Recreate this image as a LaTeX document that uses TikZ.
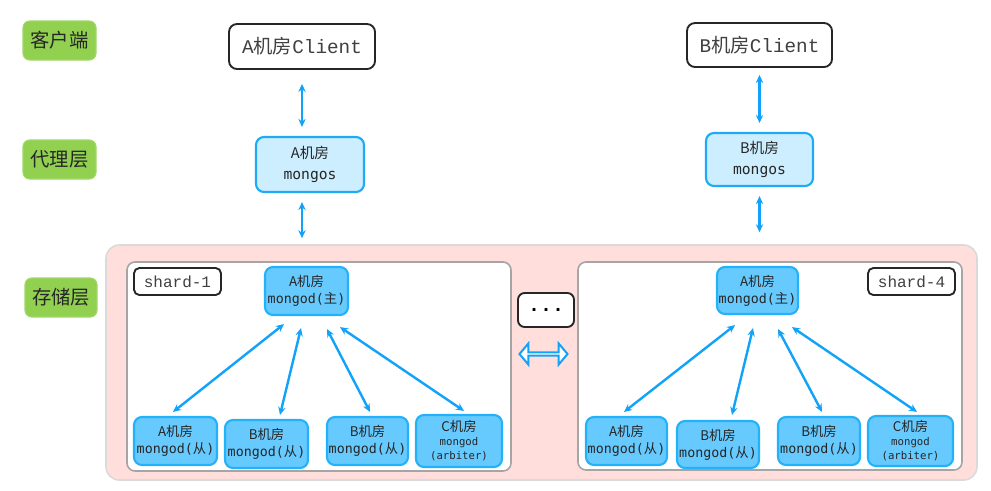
\documentclass[tikz,border=0pt]{standalone}
\usepackage{fontspec}
\setmainfont{Noto Sans CJK SC}
\newfontfamily\cjk{Noto Sans CJK SC}
\newfontfamily\mono{DejaVu Sans Mono}
\newfontfamily\cour{Liberation Mono}
\usetikzlibrary{arrows.meta,shapes.arrows}
\definecolor{lblgreen}{RGB}{146,208,80}
\definecolor{arrblue}{RGB}{17,163,250}
\definecolor{mongosfill}{RGB}{204,238,255}
\definecolor{mongosdraw}{RGB}{30,170,245}
\definecolor{mongodfill}{RGB}{102,202,255}
\definecolor{mongoddraw}{RGB}{35,178,250}
\definecolor{pinkfill}{RGB}{255,222,220}
\definecolor{pinkdraw}{RGB}{218,218,218}
\definecolor{sharddraw}{RGB}{165,165,165}
\definecolor{darkline}{RGB}{38,38,38}
\tikzset{
  sz/.style 2 args={minimum width={#1*0.75pt},minimum height={#2*0.75pt}},
  base/.style={inner sep=0pt, align=center, rounded corners=5pt},
  layer/.style={base, fill=lblgreen, draw=lblgreen!85!white, line width=0.8pt, text=black!85, font=\cjk\fontsize{14.5}{17}\selectfont},
  clientbox/.style={base, fill=white, draw=darkline, line width=1.4pt, rounded corners=6pt, text=black!75, font=\fontsize{14.5}{17}\selectfont},
  mongosbox/.style={base, fill=mongosfill, draw=mongosdraw, line width=1.6pt, rounded corners=6pt, text=black!85, font=\fontsize{11}{15.75}\selectfont},
  mongodbox/.style={base, fill=mongodfill, draw=mongoddraw, line width=1.6pt, rounded corners=6pt, text=black!85, font=\fontsize{10}{12.75}\selectfont},
  arbbox/.style={mongodbox, font=\fontsize{8}{10.5}\selectfont},
  shardlbl/.style={base, fill=white, draw=darkline, line width=1.4pt, rounded corners=4pt, text=black!75, font=\cour\fontsize{12}{14}\selectfont},
  shardbox/.style={base, fill=white, draw=sharddraw, line width=1.2pt, rounded corners=6pt},
  conn/.style={draw=arrblue, line width=1.8pt, {Stealth[length=6pt,width=5.5pt]}-{Stealth[length=6pt,width=5.5pt]}},
}
\begin{document}
\begin{tikzpicture}[x=0.75pt,y=-0.75pt]
\useasboundingbox (0,0) rectangle (991,490);
% layer labels
\node[layer, sz={73}{39}] (lclient) at (59.5,40.5) {客户端};
\node[layer, sz={73}{39}] (lproxy) at (59.5,159.5) {代理层};
\node[layer, sz={72}{39}] (lstore) at (61,297.5) {存储层};
% clients
\node[clientbox, sz={146}{45}] (clientA) at (302,46.5) {{\cour A}机房{\cour Client}};
\node[clientbox, sz={145}{44}] (clientB) at (759.5,45) {{\cour B}机房{\cour Client}};
% mongos
\node[mongosbox, sz={108}{55}] (mongosA) at (310,164.5) {A机房\\{\mono mongos}};
\node[mongosbox, sz={107}{53}] (mongosB) at (759.5,159.5) {B机房\\{\mono mongos}};
% storage area
\node[base, fill=pinkfill, draw=pinkdraw, line width=1.2pt, rounded corners=10pt, sz={871}{235}] (storage) at (541.5,362.5) {};
\node[shardbox, sz={384}{209}] (shard1) at (319,366.5) {};
\node[shardbox, sz={384}{208}] (shard4) at (770,366) {};
\node[shardlbl, sz={87}{27}] (lbl1) at (177.5,281.5) {shard-1};
\node[shardlbl, sz={87}{27}] (lbl4) at (911.5,281.5) {shard-4};
% middle
\node[base, fill=white, draw=darkline, line width=1.4pt, rounded corners=5pt, sz={56}{34}, font=\cour\bfseries\fontsize{15}{15}\selectfont] (dots) at (546,310) {\raisebox{-2.5pt}{...}};
\node[double arrow, draw=arrblue, fill=white, line width=1.5pt, inner sep=0pt, minimum height={48*0.75pt}, minimum width={21*0.75pt}, double arrow head extend={5.5*0.75pt}, double arrow tip angle=100] (dbl) at (543.5,354) {};
% shard-1 nodes
\node[mongodbox, sz={83}{48}] (top1) at (306.5,291) {A机房\\{\mono mongod(}主{\mono )}};
\node[mongodbox, sz={83}{48}] (b11) at (175.5,441) {A机房\\{\mono mongod(}从{\mono )}};
\node[mongodbox, sz={83}{48}] (b12) at (266.5,444) {B机房\\{\mono mongod(}从{\mono )}};
\node[mongodbox, sz={81}{48}] (b13) at (367.5,441) {B机房\\{\mono mongod(}从{\mono )}};
\node[arbbox, sz={86}{52}] (b14) at (459,441) {{\fontsize{10}{10.5}\selectfont C机房}\\{\mono mongod}\\{\mono (arbiter)}};
% shard-4 nodes
\node[mongodbox, sz={81}{47}] (top4) at (757.5,290.5) {A机房\\{\mono mongod(}主{\mono )}};
\node[mongodbox, sz={81}{48}] (b41) at (626.5,441) {A机房\\{\mono mongod(}从{\mono )}};
\node[mongodbox, sz={82}{47}] (b42) at (718,444.5) {B机房\\{\mono mongod(}从{\mono )}};
\node[mongodbox, sz={82}{48}] (b43) at (819,441) {B机房\\{\mono mongod(}从{\mono )}};
\node[arbbox, sz={85}{50}] (b44) at (910.5,441) {{\fontsize{10}{10.5}\selectfont C机房}\\{\mono mongod}\\{\mono (arbiter)}};
% vertical connectors
\draw[conn, shorten <={14*0.75pt}, shorten >={9*0.75pt}] (clientA.south) -- (clientA.south |- mongosA.north);
\draw[conn, shorten <={9*0.75pt}, shorten >={6*0.75pt}] (clientA.south |- mongosA.south) -- (clientA.south |- storage.north);
\draw[conn, shorten <={7*0.75pt}, shorten >={9*0.75pt}] (clientB.south) -- (clientB.south |- mongosB.north);
\draw[conn, shorten <={9*0.75pt}, shorten >={12*0.75pt}] (clientB.south |- mongosB.south) -- (clientB.south |- storage.north);
% shard-1 connectors
\draw[conn] ([shift={(-22.5,8)}]top1.south) -- ([shift={(-2.5,-4)}]b11.north);
\draw[conn] ([shift={(-5.5,12)}]top1.south) -- ([shift={(13.5,-4)}]b12.north);
\draw[conn] ([shift={(20.5,13)}]top1.south) -- ([shift={(2.5,-4)}]b13.north);
\draw[conn] ([shift={(33.5,11)}]top1.south) -- ([shift={(5,-3)}]b14.north);
% shard-4 connectors
\draw[conn] ([shift={(-22.5,10)}]top4.south) -- ([shift={(-2.5,-4)}]b41.north);
\draw[conn] ([shift={(-4.5,13)}]top4.south) -- ([shift={(14,-5)}]b42.north);
\draw[conn] ([shift={(20.5,14)}]top4.south) -- ([shift={(3,-4)}]b43.north);
\draw[conn] ([shift={(34.5,12)}]top4.south) -- ([shift={(6.5,-3)}]b44.north);
\end{tikzpicture}
\end{document}
